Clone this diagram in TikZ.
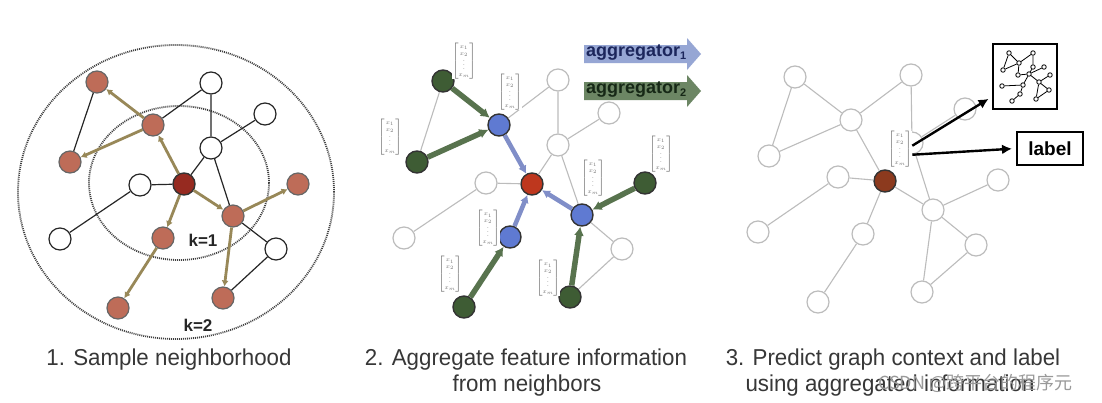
\documentclass[tikz,border=0pt]{standalone}
\usepackage{fontspec}
\setmainfont{Liberation Sans}
\newfontfamily\cjkfont{Noto Sans CJK SC}
\usetikzlibrary{arrows.meta}
\definecolor{brownn}{RGB}{190,108,88}
\definecolor{redc}{RGB}{150,42,32}
\definecolor{redc2}{RGB}{190,55,30}
\definecolor{redc3}{RGB}{140,58,30}
\definecolor{tanarr}{RGB}{152,136,88}
\definecolor{bluen}{RGB}{95,122,210}
\definecolor{greenn}{RGB}{62,92,52}
\definecolor{bluearr}{RGB}{128,142,200}
\definecolor{greenarr}{RGB}{88,115,78}
\definecolor{lightg}{RGB}{188,188,188}
\definecolor{capc}{RGB}{55,55,55}
\definecolor{agg1}{RGB}{150,166,212}
\definecolor{agg2}{RGB}{108,134,100}
\newcommand{\fvec}{$\left[\begin{array}{@{}c@{}}x_1\\[-1pt] x_2\\[-2pt] \vdots\\[-1pt] x_m\end{array}\right]$}
\begin{document}
\begin{tikzpicture}[x=1pt,y=-1pt,
  nd/.style={circle,minimum size=22pt,inner sep=0pt,line width=1.2pt},
  wnode/.style={nd,draw=black!85,fill=white},
  lnode/.style={nd,draw=lightg,fill=white},
  brnode/.style={nd,draw=black!60,fill=brownn},
  cnode/.style={nd,draw=black!80,fill=#1,line width=1.4pt},
  bnode/.style={nd,draw=black!80,fill=bluen,line width=1.4pt},
  gnode/.style={nd,draw=black!80,fill=greenn,line width=1.4pt},
  edge1/.style={draw=black!85,line width=1.2pt},
  edgel/.style={draw=lightg,line width=1.1pt},
  tarr/.style={draw=tanarr,line width=2.8pt,-{Latex[length=6pt,width=7pt]}},
  barr/.style={draw=bluearr,line width=4.5pt,-{Latex[length=8pt,width=9pt]}},
  garr/.style={draw=greenarr,line width=5.5pt,-{Latex[length=9pt,width=10pt]}},
  karr/.style={draw=black,line width=2.4pt,-{Latex[length=10pt,width=10pt]}},
  ring/.style={draw=black!75,line width=1.8pt,dash pattern=on 1pt off 1pt},
  captxt/.style={font=\fontsize{23}{27}\selectfont,text=capc,inner sep=0pt,anchor=base,xscale=0.97,transform shape},
  vec/.style={font=\fontsize{6}{7.2}\selectfont,text=black!55,inner sep=0pt,fill=white},
  mn/.style={circle,draw=black,fill=white,line width=0.8pt,minimum size=4.5pt,inner sep=0pt},
  me/.style={draw=black,line width=0.8pt}
]
\useasboundingbox (0,0) rectangle (1102,402);
\fill[white] (0,0) rectangle (1102,402);

% ---------------- Panel 1 ----------------
\draw[ring] (176,192) ellipse [x radius=158pt, y radius=147pt];
\draw[ring] (179,183) ellipse [x radius=90pt, y radius=77pt];
\node[brnode] (A) at (97,82) {};
\node[brnode] (B) at (153,125) {};
\node[brnode] (C) at (70,162) {};
\node[wnode] (D) at (211,83) {};
\node[wnode] (E) at (265,114) {};
\node[wnode] (F) at (211,148) {};
\node[wnode] (G) at (140,185) {};
\node[cnode=redc] (H) at (184,184) {};
\node[wnode] (I) at (60,239) {};
\node[brnode] (J) at (163,238) {};
\node[brnode] (K) at (233,216) {};
\node[brnode] (L) at (298,184) {};
\node[wnode] (M) at (276,249) {};
\node[brnode] (N) at (118,308) {};
\node[brnode] (O) at (223,298) {};
\draw[edge1] (A)--(C) (B)--(D) (D)--(F) (F)--(E) (F)--(H) (F)--(K) (G)--(H) (G)--(I) (K)--(M) (M)--(O);
\draw[tarr] (H)--(B);
\draw[tarr] (B)--(A);
\draw[tarr] (B)--(C);
\draw[tarr] (H)--(K);
\draw[tarr] (K)--(L);
\draw[tarr] (K)--(O);
\draw[tarr] (H)--(J);
\draw[tarr] (J)--(N);
\node[font=\bfseries\fontsize{17}{20}\selectfont,text=black!85] (k1) at (203,240) {k=1};
\node[font=\bfseries\fontsize{17}{20}\selectfont,text=black!85] (k2) at (198,325) {k=2};

% ---------------- Panel 2 ----------------
\node[gnode] (A2) at (443,81) {};
\node[bnode] (B2) at (499,125) {};
\node[gnode] (C2) at (417,162) {};
\node[lnode] (D2) at (558,80) {};
\node[lnode] (E2) at (609,113) {};
\node[lnode] (F2) at (558,145) {};
\node[lnode] (G2) at (486,183) {};
\node[cnode=redc2] (H2) at (532,184) {};
\node[lnode] (I2) at (404,238) {};
\node[bnode] (J2) at (510,237) {};
\node[bnode] (K2) at (582,215) {};
\node[gnode] (L2) at (645,183) {};
\node[lnode] (M2) at (622,249) {};
\node[gnode] (N2) at (464,307) {};
\node[gnode] (O2) at (570,297) {};
\draw[edgel] (A2)--(C2) (B2)--(D2) (D2)--(F2) (F2)--(E2) (F2)--(H2) (F2)--(K2) (G2)--(H2) (G2)--(I2) (K2)--(M2) (M2)--(O2);
\draw[garr] (A2)--(B2);
\draw[garr] (C2)--(B2);
\draw[garr] (L2)--(K2);
\draw[garr] (O2)--(K2);
\draw[garr] (N2)--(J2);
\draw[barr] (B2)--(H2);
\draw[barr] (J2)--(H2);
\draw[barr] (K2)--(H2);
\node[vec] (v1) at (464,61) {\fvec};
\node[vec] (v2) at (510,92) {\fvec};
\node[vec] (v3) at (390,137) {\fvec};
\node[vec] (v4) at (661,154) {\fvec};
\node[vec] (v5) at (593,178) {\fvec};
\node[vec] (v6) at (488,228) {\fvec};
\node[vec] (v7) at (450,274) {\fvec};
\node[vec] (v8) at (548,278) {\fvec};
% aggregator arrows
\fill[agg1] (584,45) -- (687,45) -- (687,38) -- (701,54) -- (687,70) -- (687,63) -- (584,63) -- cycle;
\fill[agg2] (584,82) -- (687,82) -- (687,75) -- (701,91) -- (687,107) -- (687,100) -- (584,100) -- cycle;
\node[font=\bfseries\fontsize{18}{20}\selectfont,text={rgb,255:red,28;green,38;blue,92},anchor=west,inner sep=0pt] (ag1) at (586,53) {aggregator\textsubscript{\fontsize{11}{12}\selectfont 1}};
\node[font=\bfseries\fontsize{18}{20}\selectfont,text={rgb,255:red,22;green,40;blue,22},anchor=west,inner sep=0pt] (ag2) at (586,90) {aggregator\textsubscript{\fontsize{11}{12}\selectfont 2}};

% ---------------- Panel 3 ----------------
\node[lnode] (A3) at (795,77) {};
\node[lnode] (B3) at (851,120) {};
\node[lnode] (C3) at (769,156) {};
\node[lnode] (D3) at (911,75) {};
\node[lnode] (E3) at (965,109) {};
\node[lnode] (F3) at (912,143) {};
\node[lnode] (G3) at (838,177) {};
\node[cnode=redc3] (H3) at (885,181) {};
\node[lnode] (I3) at (758,232) {};
\node[lnode] (J3) at (863,234) {};
\node[lnode] (K3) at (933,210) {};
\node[lnode] (L3) at (998,180) {};
\node[lnode] (M3) at (976,245) {};
\node[lnode] (N3) at (818,302) {};
\node[lnode] (O3) at (922,292) {};
\draw[edgel] (A3)--(B3) (A3)--(C3) (B3)--(C3) (B3)--(D3) (B3)--(H3) (D3)--(F3) (F3)--(E3) (F3)--(K3) (G3)--(H3) (G3)--(I3) (H3)--(J3) (J3)--(N3) (H3)--(K3) (K3)--(L3) (K3)--(M3) (K3)--(O3) (M3)--(O3);
\node[vec] (v9) at (900,149) {\fvec};
\node[draw=black,line width=2pt,minimum width=64pt,minimum height=65pt,inner sep=0pt] (gbox) at (1025,76.5) {};
\node[draw=black,line width=2pt,minimum width=66pt,minimum height=33pt,inner sep=0pt,font=\bfseries\fontsize{19}{22}\selectfont] (lab) at (1050,148.5) {label};
\draw[karr,shorten >=4pt] (v9.15) -- (gbox);
\draw[karr,shorten >=4pt] (v9.-25) -- (lab.west);
% mini graph
\node[mn] (m1) at (1009,53) {};
\node[mn] (m2) at (1033,53) {};
\node[mn] (m3) at (1019,63) {};
\node[mn] (m4) at (1003,70) {};
\node[mn] (m5) at (1033,67) {};
\node[mn] (m6) at (1044,67) {};
\node[mn] (m7) at (1018,75) {};
\node[mn] (m8) at (1029,74) {};
\node[mn] (m9) at (1050,75) {};
\node[mn] (m10) at (1039,82) {};
\node[mn] (m11) at (1023,85) {};
\node[mn] (m12) at (1002,86) {};
\node[mn] (m13) at (1049,90) {};
\node[mn] (m14) at (1020,94) {};
\node[mn] (m15) at (1036,99) {};
\node[mn] (m17) at (1012,101) {};
\draw[me] (m1)--(m4) (m1)--(m3) (m4)--(m3) (m3)--(m2) (m2)--(m5) (m5)--(m8) (m7)--(m8) (m3)--(m7) (m8)--(m6) (m8)--(m10) (m10)--(m9) (m10)--(m13) (m13)--(m15) (m15)--(m10) (m11)--(m12) (m11)--(m8) (m11)--(m14) (m14)--(m17);

% ---------------- Captions ----------------
\node[captxt] (c1) at (169,365) {1. Sample neighborhood};
\node[captxt] (c2a) at (526,365) {2. Aggregate feature information};
\node[captxt] (c2b) at (527,391) {from neighbors};
\node[captxt] (c3a) at (893,365) {3. Predict graph context and label};
\node[captxt] (c3b) at (890,391) {using aggregated information};
\node[font=\cjkfont\fontsize{18}{20}\selectfont,text=black!40,anchor=west,inner sep=0pt] (wm) at (878,383) {CSDN @跨平台的程序元};
\end{tikzpicture}
\end{document}
